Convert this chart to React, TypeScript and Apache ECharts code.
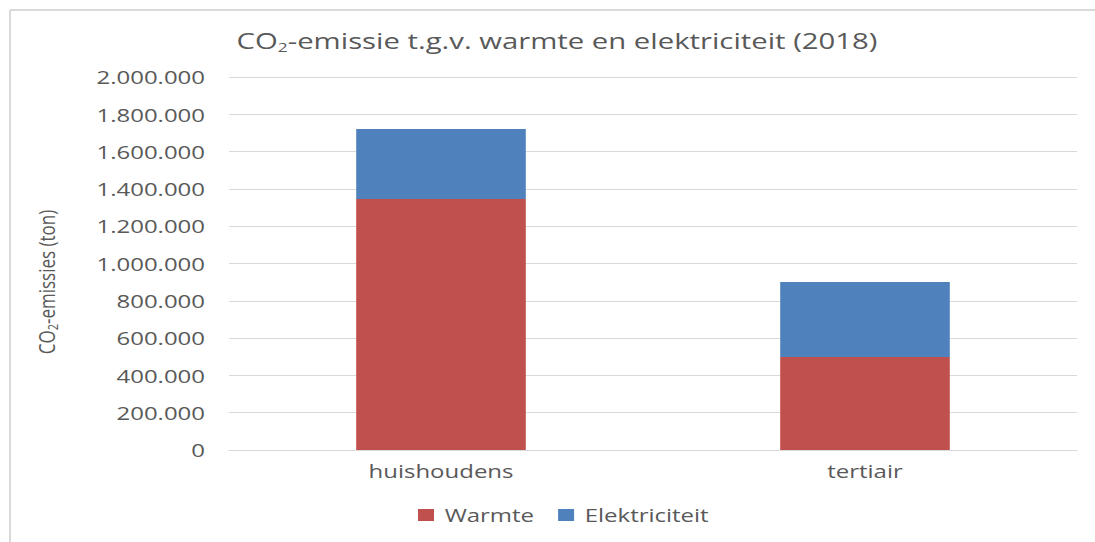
import React, { useEffect, useRef } from "react";
import * as echarts from "echarts";

const categories = ["huishoudens", "tertiair"];
const warmte = [1346000, 499000];
const elektriciteit = [375000, 402000];
const seriesNames = ["Warmte", "Elektriciteit"];
const yTicks = { min: 0, max: 2000000, interval: 200000 };

const FONT = "'Open Sans', 'Noto Sans', sans-serif";
const TEXT = "#595959";

// The reference is an Excel chart stretched horizontally; render narrower and stretch.
const OUT_W = 1095;
const H = 542;
const W = 822;
const SX = OUT_W / W;
const px = (x: number) => x / SX;

function fmt(v: number): string {
  return String(Math.round(v)).replace(/\B(?=(\d{3})+(?!\d))/g, ".");
}

export default function App() {
  const ref = useRef<HTMLDivElement>(null);
  useEffect(() => {
    if (!ref.current) return;
    const chart = echarts.init(ref.current, null, { renderer: "svg" });
    chart.setOption({
      animation: false,
      backgroundColor: "#ffffff",
      title: {
        text: "CO{sub|2}-emissie t.g.v. warmte en elektriciteit (2018)",
        left: px(557),
        top: 29,
        textAlign: "center",
        padding: 0,
        textStyle: {
          fontFamily: FONT,
          fontSize: 22,
          fontWeight: "normal",
          color: TEXT,
          rich: {
            sub: { fontFamily: FONT, fontSize: 13, color: TEXT, padding: [11, 0, 0, 0] },
          },
        },
      },
      legend: {
        data: seriesNames,
        left: px(418),
        top: 506,
        padding: 0,
        itemWidth: 12,
        itemHeight: 12,
        itemGap: 18,
        icon: "rect",
        textStyle: { fontFamily: FONT, fontSize: 18, color: TEXT, padding: [0, 0, 0, 3] },
      } as any,
      grid: { left: px(229), right: px(18), top: 77, bottom: 92, containLabel: false },
      xAxis: {
        type: "category",
        data: categories,
        axisLine: { show: true, lineStyle: { color: "#d9d9d9", width: 1 } },
        axisTick: { show: false },
        axisLabel: { fontFamily: FONT, fontSize: 18, color: TEXT, margin: 12 },
      },
      yAxis: {
        type: "value",
        min: yTicks.min,
        max: yTicks.max,
        interval: yTicks.interval,
        axisLine: { show: false },
        axisTick: { show: false },
        splitLine: { lineStyle: { color: "#d9d9d9", width: 1 } },
        axisLabel: {
          fontFamily: FONT,
          fontSize: 18,
          color: TEXT,
          margin: px(229) - px(205),
          formatter: (v: number) => fmt(v),
        },
      },
      graphic: [
        {
          type: "line",
          shape: { x1: px(10), y1: 10, x2: W, y2: 10 },
          style: { stroke: "#d9d9d9", lineWidth: 2 },
        },
        {
          type: "line",
          shape: { x1: px(10), y1: 10, x2: px(10), y2: H },
          style: { stroke: "#d9d9d9", lineWidth: 1.5 },
        },
        {
          type: "text",
          x: px(47),
          y: 282,
          rotation: Math.PI / 2,
          style: {
            text: "CO{sub|2}-emissies (ton)",
            fontFamily: FONT,
            fontSize: 17,
            fill: TEXT,
            align: "center",
            verticalAlign: "middle",
            rich: {
              sub: { fontFamily: FONT, fontSize: 11, fill: TEXT, padding: [8, 0, 0, 0] },
            },
          },
        },
      ],
      series: [
        {
          name: seriesNames[0],
          type: "bar",
          stack: "total",
          data: warmte,
          barWidth: "40%",
          itemStyle: { color: "#C0504D" },
        },
        {
          name: seriesNames[1],
          type: "bar",
          stack: "total",
          data: elektriciteit,
          barWidth: "40%",
          itemStyle: { color: "#4F81BD" },
        },
      ],
    });
    return () => chart.dispose();
  }, []);
  return (
    <div style={{ position: "fixed", left: 0, top: 0, width: OUT_W, height: H, overflow: "hidden", background: "#fff" }}>
      <div
        ref={ref}
        style={{
          width: W,
          height: H,
          transform: `scaleX(${SX})`,
          transformOrigin: "0 0",
        }}
      />
    </div>
  );
}
